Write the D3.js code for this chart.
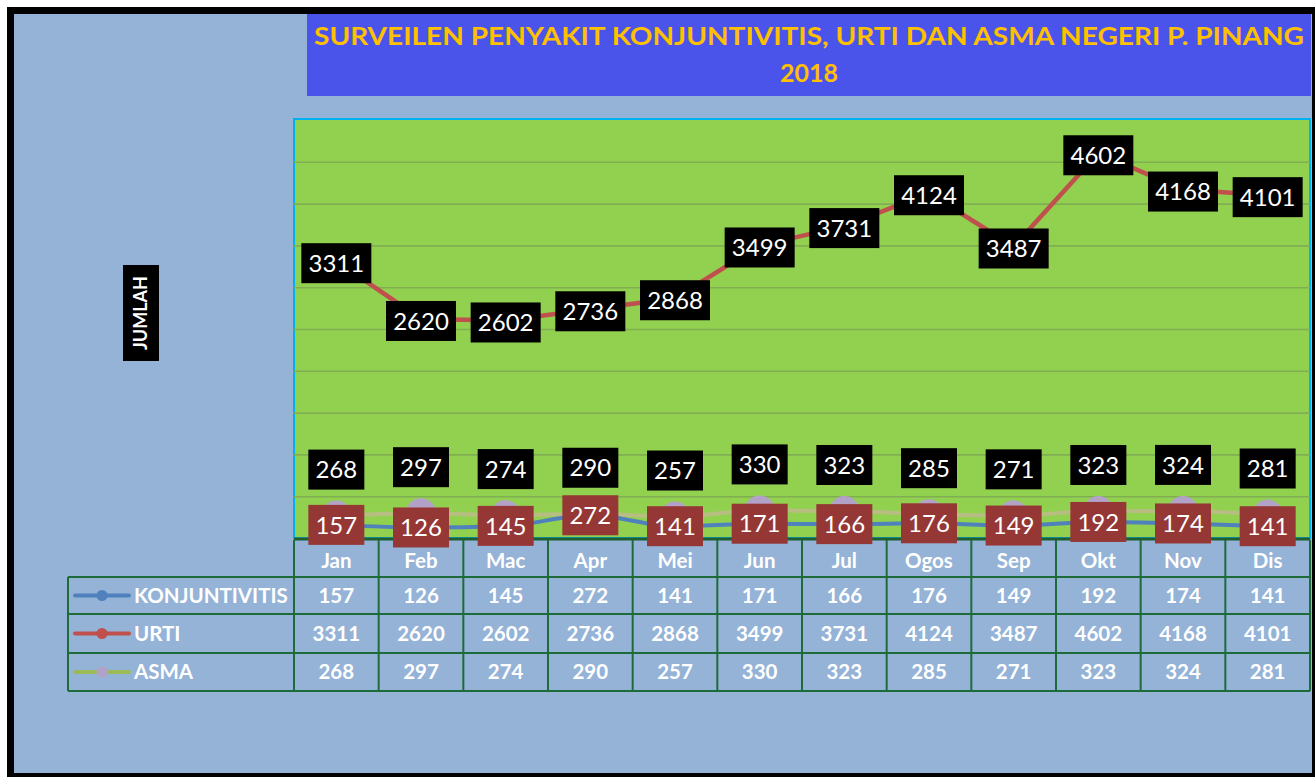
<!DOCTYPE html>
<html><head><meta charset="utf-8">
<script src="https://cdn.jsdelivr.net/npm/d3@7"></script>
<style>body{margin:0;background:#fff}svg{display:block}</style>
</head><body>
<script>
const months = ["Jan","Feb","Mac","Apr","Mei","Jun","Jul","Ogos","Sep","Okt","Nov","Dis"];
const konjuntivitis = [157,126,145,272,141,171,166,176,149,192,174,141];
const urti = [3311,2620,2602,2736,2868,3499,3731,4124,3487,4602,4168,4101];
const asma = [268,297,274,290,257,330,323,285,271,323,324,281];
const seriesNames = ["KONJUNTIVITIS","URTI","ASMA"];
const titleLines = ["SURVEILEN PENYAKIT  KONJUNTIVITIS, URTI DAN ASMA NEGERI P. PINANG","2018"];
const yMax = 5000, yStep = 500;

const W = 1315, H = 777;
const svg = d3.select("body").append("svg").attr("width", W).attr("height", H);
const FONT = "Lato, 'Open Sans', sans-serif";

// outer frame
svg.append("rect").attr("x",7).attr("y",7).attr("width",1308).attr("height",770).attr("fill","#000");
svg.append("rect").attr("x",14).attr("y",14).attr("width",1298).attr("height",759).attr("fill","#95b3d7");

// title box
svg.append("rect").attr("x",307).attr("y",14).attr("width",1004).attr("height",82).attr("fill","#4a54eb");
svg.append("text").attr("x",809).attr("y",45).attr("text-anchor","middle")
  .attr("font-family",FONT).attr("font-weight","bold").attr("font-size",25).attr("fill","#ffc000")
  .attr("textLength",990).attr("lengthAdjust","spacingAndGlyphs").text(titleLines[0]);
svg.append("text").attr("x",809).attr("y",82).attr("text-anchor","middle")
  .attr("font-family",FONT).attr("font-weight","bold").attr("font-size",25).attr("fill","#ffc000").text(titleLines[1]);

// plot area
const L = 294, R = 1310, T = 120, B = 538;
const x = d3.scaleBand().domain(months).range([L, R]);
const y = d3.scaleLinear().domain([0, yMax]).range([B, T]);
const cx = m => x(m) + x.bandwidth()/2;

svg.append("rect").attr("x",L).attr("y",T-1).attr("width",R-L).attr("height",B-T+1)
  .attr("fill","#92d050").attr("stroke","#00b0f0").attr("stroke-width",2);

// gridlines
const grid = svg.append("g").attr("transform",`translate(${L},0)`)
  .call(d3.axisLeft(y).tickValues(d3.range(yStep, yMax, yStep)).tickSize(-(R-L)).tickFormat(""));
grid.select(".domain").remove();
grid.selectAll("line").attr("stroke","#80ae52").attr("stroke-width",1.6);

// y axis title
const yt = svg.append("g").attr("transform","translate(141,313) rotate(-90)");
yt.append("rect").attr("x",-48).attr("y",-18).attr("width",96).attr("height",36).attr("fill","#000");
yt.append("text").attr("text-anchor","middle").attr("dy","0.35em").attr("font-family",FONT)
  .attr("font-weight","bold").attr("font-size",18).attr("fill","#fff").text("JUMLAH");

// lines
const line = vals => d3.line().x((d,i)=>cx(months[i])).y(d=>y(d)).curve(d3.curveMonotoneX)(vals);
svg.append("path").attr("d",line(asma)).attr("fill","none").attr("stroke","#c2b98e").attr("stroke-opacity",0.8).attr("stroke-width",4);
svg.selectAll(".am").data(asma).enter().append("circle")
  .attr("cx",(d,i)=>cx(months[i])).attr("cy",d=>y(d)).attr("r",15).attr("fill","#b3a2c7");
svg.append("path").attr("d",line(konjuntivitis)).attr("fill","none").attr("stroke","#4f81bd").attr("stroke-width",4);
svg.append("path").attr("d",d3.line().x((d,i)=>cx(months[i])).y(d=>y(d))(urti)).attr("fill","none").attr("stroke","#c0504d").attr("stroke-width",4.5);

// axis baseline
svg.append("line").attr("x1",L).attr("x2",R).attr("y1",B+1).attr("y2",B+1).attr("stroke","#1f5f2f").attr("stroke-width",3);

// data labels
function labels(vals, dy, fill){
  const g = svg.append("g");
  vals.forEach((v,i)=>{
    const s = String(v), w = s.length>3 ? 70 : 56;
    const px = cx(months[i]), py = y(v) + dy;
    g.append("rect").attr("x",px-w/2).attr("y",py-20).attr("width",w).attr("height",40).attr("fill",fill);
    g.append("text").attr("x",px).attr("y",py).attr("dy","0.36em").attr("text-anchor","middle")
      .attr("font-family",FONT).attr("font-size",24).attr("fill","#fff").text(s);
  });
}
labels(urti, 2, "#000");
labels(asma, -46, "#000");
labels(konjuntivitis, 0, "#953735");

// data table
const gridColor = "#1e6b3a";
const rowsY = [540, 577, 614, 653, 691];
const TFS = 20.5;
const tbl = svg.append("g");
months.forEach(m=>{
  tbl.append("text").attr("x",cx(m)).attr("y",(rowsY[0]+rowsY[1])/2+2).attr("dy","0.35em").attr("text-anchor","middle")
    .attr("font-family",FONT).attr("font-weight","bold").attr("font-size",TFS).attr("fill","#fff").text(m);
});
// vertical lines
months.concat(["end"]).forEach((m,i)=>{
  const xx = i < months.length ? x(m) : R;
  tbl.append("line").attr("x1",xx).attr("x2",xx).attr("y1",rowsY[0]).attr("y2",rowsY[4]).attr("stroke",gridColor).attr("stroke-width",2);
});
// left legend column
const LL = 68;
tbl.append("line").attr("x1",LL).attr("x2",LL).attr("y1",rowsY[1]).attr("y2",rowsY[4]).attr("stroke",gridColor).attr("stroke-width",2);
[1,2,3,4].forEach(r=>{
  tbl.append("line").attr("x1",LL).attr("x2",R).attr("y1",rowsY[r]).attr("y2",rowsY[r]).attr("stroke",gridColor).attr("stroke-width",2);
});

const legendStyles = [
  {line:"#4f81bd", dot:"#4f81bd"},
  {line:"#c0504d", dot:"#c0504d"},
  {line:"#9bbb59", dot:"#b3a2c7"}
];
const allVals = [konjuntivitis, urti, asma];
seriesNames.forEach((name, r)=>{
  const yc = (rowsY[r+1]+rowsY[r+2])/2;
  const st = legendStyles[r];
  tbl.append("line").attr("x1",75).attr("x2",129).attr("y1",yc).attr("y2",yc).attr("stroke",st.line).attr("stroke-width",4).attr("stroke-linecap","round");
  tbl.append("circle").attr("cx",102).attr("cy",yc).attr("r",5.5).attr("fill",st.dot);
  tbl.append("text").attr("x",134).attr("y",yc).attr("dy","0.36em").attr("font-family",FONT).attr("font-weight","bold")
    .attr("font-size",TFS).attr("fill","#fff").text(name);
  allVals[r].forEach((v,i)=>{
    tbl.append("text").attr("x",cx(months[i])).attr("y",yc).attr("dy","0.36em").attr("text-anchor","middle")
      .attr("font-family",FONT).attr("font-weight","bold").attr("font-size",TFS).attr("fill","#fff").text(v);
  });
});
</script>
</body></html>
